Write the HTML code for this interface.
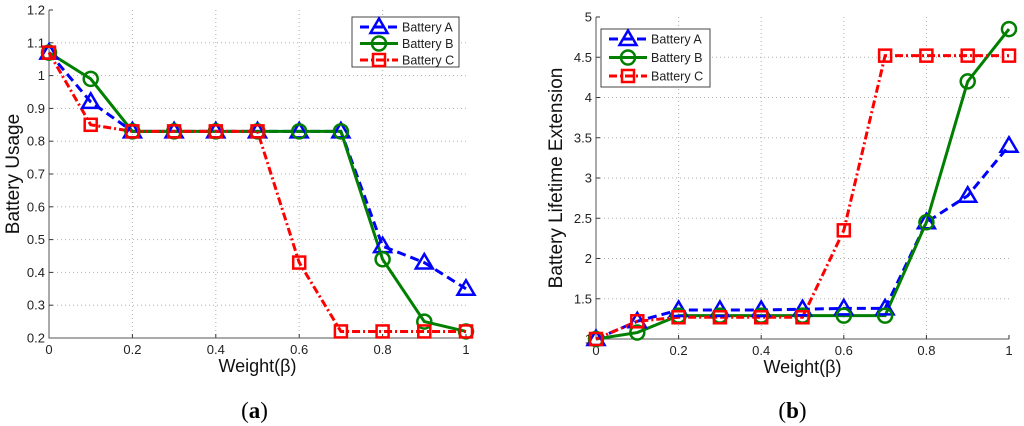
<!DOCTYPE html>
<html><head><meta charset="utf-8"><style>
body{margin:0;background:#fff;}
svg{display:block;font-family:"Liberation Sans",sans-serif;}
</style></head><body>
<svg id="s" width="1024" height="426" viewBox="0 0 1024 426"></svg>
<script>
const xs=[0,0.1,0.2,0.3,0.4,0.5,0.6,0.7,0.8,0.9,1];
const xTicks=[0,0.2,0.4,0.6,0.8,1];
const usageA=[1.07,0.92,0.83,0.83,0.83,0.83,0.83,0.83,0.48,0.43,0.35];
const usageB=[1.07,0.99,0.83,0.83,0.83,0.83,0.83,0.83,0.44,0.25,0.22];
const usageC=[1.07,0.85,0.83,0.83,0.83,0.83,0.43,0.22,0.22,0.22,0.22];
const usageTicks=[0.2,0.3,0.4,0.5,0.6,0.7,0.8,0.9,1,1.1,1.2];
const lifeA=[1,1.22,1.36,1.36,1.36,1.37,1.38,1.38,2.45,2.78,3.4];
const lifeB=[1,1.08,1.29,1.29,1.29,1.29,1.29,1.29,2.45,4.2,4.85];
const lifeC=[1,1.22,1.27,1.27,1.27,1.27,2.35,4.52,4.52,4.52,4.52];
const lifeTicks=[1,1.5,2,2.5,3,3.5,4,4.5,5];
const seriesNames=["Battery A","Battery B","Battery C"];

const NS="http://www.w3.org/2000/svg";
const svg=document.getElementById('s');
function el(tag,attrs,parent){const e=document.createElementNS(NS,tag);for(const k in attrs)e.setAttribute(k,attrs[k]);(parent||svg).appendChild(e);return e;}
const styles=[{c:"#0000ff",dash:"9,5",m:"tri"},{c:"#007f00",dash:"",m:"circ"},{c:"#ff0000",dash:"8,3,2,3",m:"sq"}];
function marker(g,m,x,y,c){
  let e;
  if(m==="tri")e=el('polygon',{points:`${x},${y-8.5} ${x-8.5},${y+6} ${x+8.5},${y+6}`,fill:"none",stroke:c,"stroke-width":2.5},g);
  else if(m==="circ")e=el('circle',{cx:x,cy:y,r:7,fill:"none",stroke:c,"stroke-width":2.5},g);
  else e=el('rect',{x:x-6,y:y-6,width:12,height:12,fill:"none",stroke:c,"stroke-width":2.5},g);
  
  
}
function chart(id,L,R,T,B,ymin,ymax,yTicks,data,ylabel,leg,tag,ytx){
  const g=el('g',{});
  
  
  const sx=v=>L+(v-0)/(1-0)*(R-L);
  const sy=v=>B-(v-ymin)/(ymax-ymin)*(B-T);
  el('rect',{x:L,y:T,width:R-L,height:B-T,fill:"#fff",stroke:"none"},g);
  xTicks.forEach(t=>{
    const x=sx(t);
    if(t>0&&t<1){const l=el('line',{x1:x,y1:T,x2:x,y2:B,stroke:"#b0b0b0","stroke-dasharray":"1,3","stroke-width":1},g);}
    el('line',{x1:x,y1:B,x2:x,y2:B-4,stroke:"#333"},g);
    const tx=el('text',{x:x,y:B+16,"font-size":13,"text-anchor":"middle",fill:"#222"},g);tx.textContent=t;
    
  });
  yTicks.forEach(t=>{
    const y=sy(t);
    if(t>ymin&&t<ymax){const l=el('line',{x1:L,y1:y,x2:R,y2:y,stroke:"#b0b0b0","stroke-dasharray":"1,3","stroke-width":1},g);}
    el('line',{x1:L,y1:y,x2:L+4,y2:y,stroke:"#333"},g);
    const tx=el('text',{x:L-4,y:y+4.5,"font-size":13,"text-anchor":"end",fill:"#222"},g);tx.textContent=t;
    
  });
  const ax=el('path',{d:`M${L},${T}V${B}H${R}`,fill:"none",stroke:"#555","stroke-width":1},g);
  
  data.forEach((d,i)=>{
    const s=styles[i];
    const pts=d.map((v,j)=>`${sx(xs[j])},${sy(v)}`).join(' ');
    const pl=el('polyline',{points:pts,fill:"none",stroke:s.c,"stroke-width":3,"stroke-dasharray":s.dash},g);
    
    
  });
  data.forEach((d,i)=>{d.forEach((v,j)=>marker(g,styles[i].m,sx(xs[j]),sy(v),styles[i].c));});
  const xl=el('text',{x:(L+R)/2,y:B+34,"font-size":18,"text-anchor":"middle",fill:"#111"},g);xl.textContent="Weight(β)";
  
  const yl=el('text',{x:0,y:0,"font-size":19,"text-anchor":"middle",fill:"#111",transform:`translate(${ytx},${(T+B)/2}) rotate(-90)`},g);yl.textContent=ylabel;
  
  const lg=el('g',{},g);
  
  
  el('rect',{x:leg[0],y:leg[1],width:leg[2],height:leg[3],fill:"#fff",stroke:"#444"},lg);
  seriesNames.forEach((n,i)=>{
    const y=leg[1]+10+i*16.5+(leg[3]>55?2:0)*i;
    const ln=el('line',{x1:leg[0]+8,y1:y,x2:leg[0]+46,y2:y,stroke:styles[i].c,"stroke-width":3,"stroke-dasharray":styles[i].dash},lg);
    
    marker(lg,styles[i].m,leg[0]+27,y,styles[i].c);
    const t=el('text',{x:leg[0]+50,y:y+4.5,"font-size":12.5,fill:"#222"},lg);t.textContent=n;
    
  });
  const cap=el('text',{x:(L+R)/2+(tag==="(a)"?-3:-10),y:418,"font-size":23,"text-anchor":"middle","font-family":"Liberation Serif, serif",fill:"#000"},g);
  cap.innerHTML=tag==="(a)"?'(<tspan font-weight="bold">a</tspan>)':'(<tspan font-weight="bold">b</tspan>)';
  
}
chart('chart-battery-usage',49,466,10,338,0.2,1.2,usageTicks,[usageA,usageB,usageC],"Battery Usage",[352,17,107,50],"(a)",19);
chart('chart-battery-lifetime',596,1009,17,339,1,5,lifeTicks,[lifeA,lifeB,lifeC],"Battery Lifetime Extension",[601,29,109,58],"(b)",562);
</script>
</body></html>
